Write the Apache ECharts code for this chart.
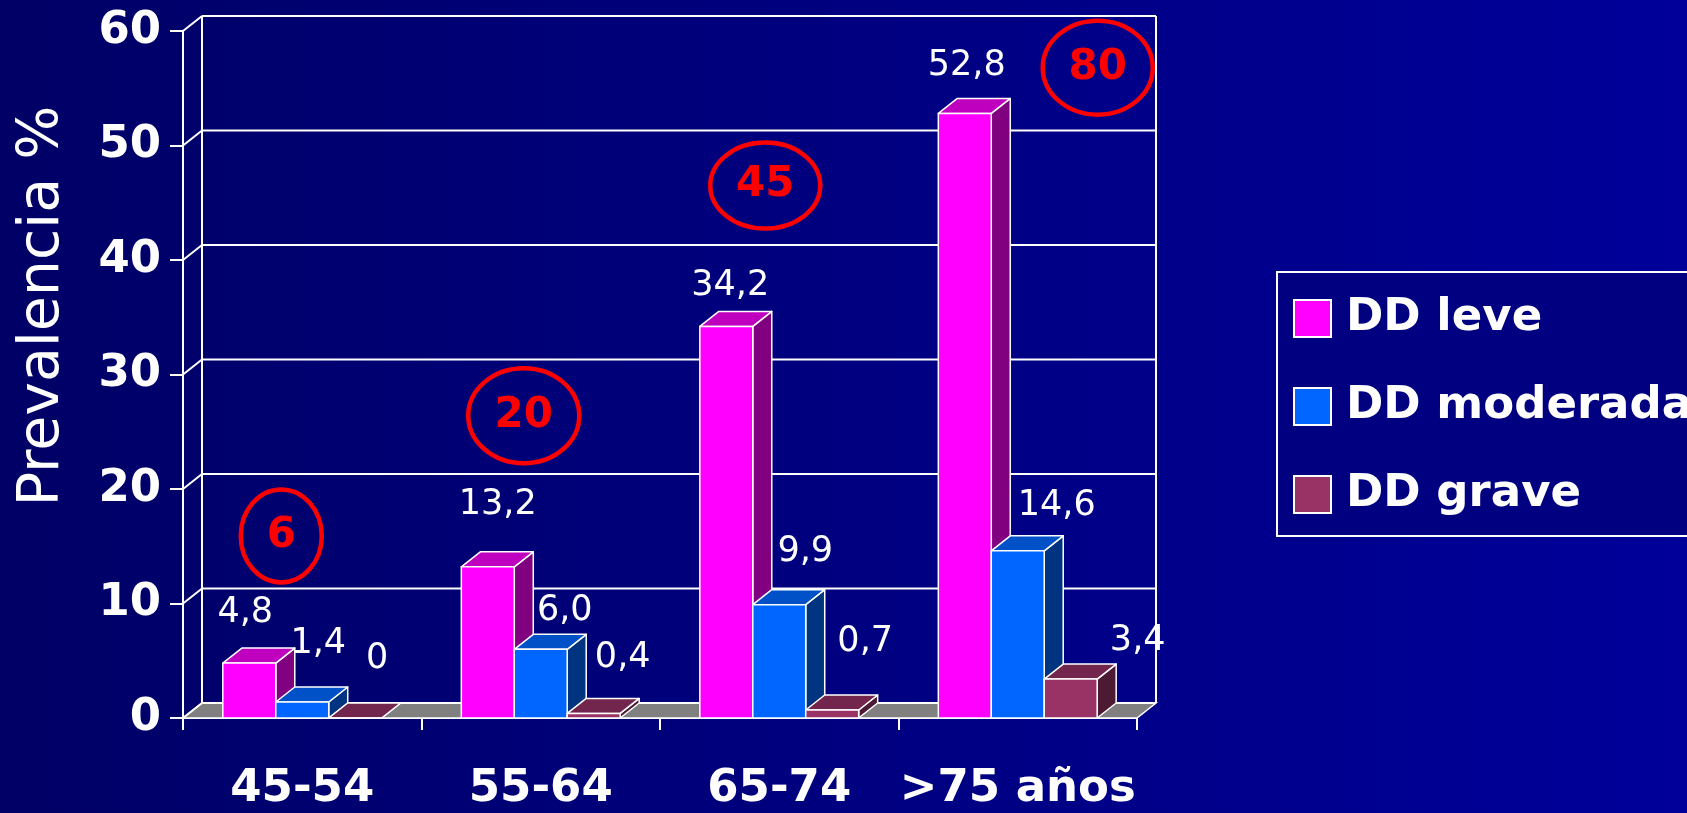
<!DOCTYPE html>
<html>
<head>
<meta charset="utf-8">
<script src="https://cdn.jsdelivr.net/npm/echarts@6/dist/echarts.min.js"></script>
<style>
  html, body { margin: 0; padding: 0; background: #000066; }
  #chart { width: 1687px; height: 813px; }
</style>
</head>
<body>
<div id="chart"></div>
<script>
// ---- data ----
const ageGroups = ['45-54', '55-64', '65-74', '>75 años'];
const seriesNames = ['DD leve', 'DD moderada', 'DD grave'];
const ddLeve = [4.8, 13.2, 34.2, 52.8];
const ddModerada = [1.4, 6.0, 9.9, 14.6];
const ddGrave = [0, 0.4, 0.7, 3.4];
const yTicks = [0, 10, 20, 30, 40, 50, 60];
const groupTotals = ['6', '20', '45', '80'];

// ---- layout & style ----
const DEPTH = [19, -15];          // pseudo-3D depth offset of the walls and bars (px)
const BAR_FRAC = 0.222;           // share of a category taken by each bar
const FACES = [
  { front: '#FF00FF', top: '#BF00BF', side: '#800080' },
  { front: '#0066FF', top: '#0050C8', side: '#003380' },
  { front: '#993366', top: '#73264D', side: '#4D1A33' }
];
// hand-placed value labels: px shift from the top-centre of each bar's front face
const LABEL_NUDGE = [
  [[-4, -50], [10, -62], [4, -41], [2, -48]],
  [[16, -58], [24, -38], [26, -53], [39, -45]],
  [[22, -59], [29, -56], [33, -68], [67, -38]]
];
// circled totals: [px shift from category centre, height on the value axis], ellipse size
const TOTAL_MARK = [[-21, 15.9], [-17, 26.4], [-14, 46.5], [80, 56.8]];
const TOTAL_SIZE = [[81, 93], [111, 95], [110, 86], [110, 94]];

const FONT = '"DejaVu Sans", "Noto Sans", sans-serif';
const EDGE = { stroke: '#FFFFFF', lineWidth: 1.5, lineJoin: 'round' };

function fmt(v) {
  return v === 0 ? '0' : v.toFixed(1).replace('.', ',');
}

// back wall, left wall connectors and grey floor
function renderFrame(params, api) {
  const cs = params.coordSys;
  const [dx, dy] = DEPTH;
  const left = cs.x, right = cs.x + cs.width;
  const y = api.coord([0, api.value(1)])[1];
  const children = [
    { type: 'line', shape: { x1: left, y1: y, x2: left + dx, y2: y + dy },
      style: { stroke: '#fff', lineWidth: 2 } },
    { type: 'line', shape: { x1: left + dx, y1: y + dy, x2: right + dx, y2: y + dy },
      style: { stroke: '#fff', lineWidth: 2 } }
  ];
  if (params.dataIndex === 0) {
    const yTop = api.coord([0, yTicks[yTicks.length - 1]])[1];
    children.unshift({
      type: 'polygon',
      shape: { points: [[left, y], [right, y], [right + dx, y + dy], [left + dx, y + dy]] },
      style: { fill: '#808080', stroke: '#fff', lineWidth: 1.5 }
    });
    children.push(
      { type: 'line', shape: { x1: left + dx, y1: yTop + dy, x2: left + dx, y2: y + dy },
        style: { stroke: '#fff', lineWidth: 2 } },
      { type: 'line', shape: { x1: right + dx, y1: yTop + dy, x2: right + dx, y2: y + dy },
        style: { stroke: '#fff', lineWidth: 2 } }
    );
  }
  return { type: 'group', children };
}

function barRenderer(si) {
  return function (params, api) {
    const ci = api.value(0), v = api.value(1);
    const base = api.coord([ci, 0]);
    const yt = api.coord([ci, v])[1];
    const yb = base[1];
    const w = api.size([1, 0])[0] * BAR_FRAC;
    const x = base[0] + (si - 1.5) * w;
    const [dx, dy] = DEPTH;
    const f = FACES[si];
    const nudge = LABEL_NUDGE[si][params.dataIndex];
    return {
      type: 'group',
      children: [
        { type: 'polygon',
          shape: { points: [[x + w, yt], [x + w + dx, yt + dy], [x + w + dx, yb + dy], [x + w, yb]] },
          style: Object.assign({ fill: f.side }, EDGE) },
        { type: 'polygon',
          shape: { points: [[x, yt], [x + w, yt], [x + w + dx, yt + dy], [x + dx, yt + dy]] },
          style: Object.assign({ fill: f.top }, EDGE) },
        { type: 'rect', shape: { x: x, y: yt, width: w, height: yb - yt },
          style: Object.assign({ fill: f.front }, EDGE) },
        { type: 'text', z2: 100,
          style: { text: fmt(v), x: x + w / 2 + nudge[0], y: yt + nudge[1],
                   fill: '#fff', fontSize: 35, fontFamily: FONT,
                   align: 'center', verticalAlign: 'middle' } }
      ]
    };
  };
}

function renderTotal(params, api) {
  const i = params.dataIndex;
  const c = api.coord([api.value(0), api.value(1)]);
  const cx = c[0] + TOTAL_MARK[i][0];
  const [ew, eh] = TOTAL_SIZE[i];
  return {
    type: 'group',
    children: [
      { type: 'ellipse', shape: { cx: cx, cy: c[1], rx: ew / 2, ry: eh / 2 },
        style: { fill: 'none', stroke: '#FF0000', lineWidth: 4.5 } },
      { type: 'text',
        style: { text: groupTotals[i], x: cx, y: c[1], fill: '#FF0000',
                 fontSize: 42, fontWeight: 'bold', fontFamily: FONT,
                 align: 'center', verticalAlign: 'middle' } }
    ]
  };
}

const seriesValues = [ddLeve, ddModerada, ddGrave];

const chart = echarts.init(document.getElementById('chart'), null, { renderer: 'canvas' });
chart.setOption({
  animation: false,
  backgroundColor: {
    type: 'linear', x: 0, y: 0, x2: 1, y2: 0,
    colorStops: [{ offset: 0, color: '#000066' }, { offset: 1, color: '#00009A' }]
  },
  grid: { left: 183, top: 31, width: 954, height: 687 },
  xAxis: {
    type: 'category',
    data: ageGroups,
    boundaryGap: true,
    axisLine: { lineStyle: { color: '#fff', width: 2 } },
    axisTick: { show: true, interval: 0, length: 12, lineStyle: { color: '#fff', width: 2 } },
    axisLabel: { interval: 0, color: '#fff', fontSize: 45, fontWeight: 'bold', fontFamily: FONT,
                 lineHeight: 46, margin: 48, hideOverlap: false },
    splitLine: { show: false }
  },
  yAxis: {
    type: 'value', min: 0, max: 60, interval: 10,
    axisLine: { show: true, lineStyle: { color: '#fff', width: 2 } },
    axisTick: { show: true, length: 13, lineStyle: { color: '#fff', width: 2 } },
    axisLabel: { color: '#fff', fontSize: 45, fontWeight: 'bold', fontFamily: FONT, margin: 22 },
    splitLine: { show: false }
  },
  legend: {
    orient: 'vertical', left: 1277, top: 272,
    data: seriesNames.map(n => ({ name: n, icon: 'rect' })),
    itemWidth: 37, itemHeight: 37, itemGap: 43,
    padding: [24, 60, 19, 16],
    backgroundColor: '#000080', borderColor: '#fff', borderWidth: 2, borderRadius: 0,
    itemStyle: { borderColor: '#fff', borderWidth: 2 },
    textStyle: { color: '#fff', fontSize: 45, fontWeight: 'bold', fontFamily: FONT,
                 lineHeight: 44, padding: [0, 0, 0, 10] },
    selectedMode: false
  },
  graphic: [{
    type: 'text', x: 43, y: 306, rotation: Math.PI / 2,
    style: { text: 'Prevalencia %', x: 0, y: 0, fill: '#fff', fontSize: 57, fontFamily: FONT,
             align: 'center', verticalAlign: 'middle' }
  }],
  series: [
    { type: 'custom', name: 'frame', z: 1, clip: false, silent: true,
      renderItem: renderFrame, data: yTicks.map(v => [0, v]) }
  ].concat(seriesValues.map((vals, si) => ({
    type: 'custom', name: seriesNames[si], z: 2, clip: false,
    itemStyle: { color: FACES[si].front },
    renderItem: barRenderer(si),
    data: vals.map((v, i) => [i, v])
  }))).concat([
    { type: 'custom', name: 'totals', z: 5, clip: false, silent: true,
      renderItem: renderTotal, data: TOTAL_MARK.map((m, i) => [i, m[1]]) }
  ])
});
</script>
</body>
</html>
